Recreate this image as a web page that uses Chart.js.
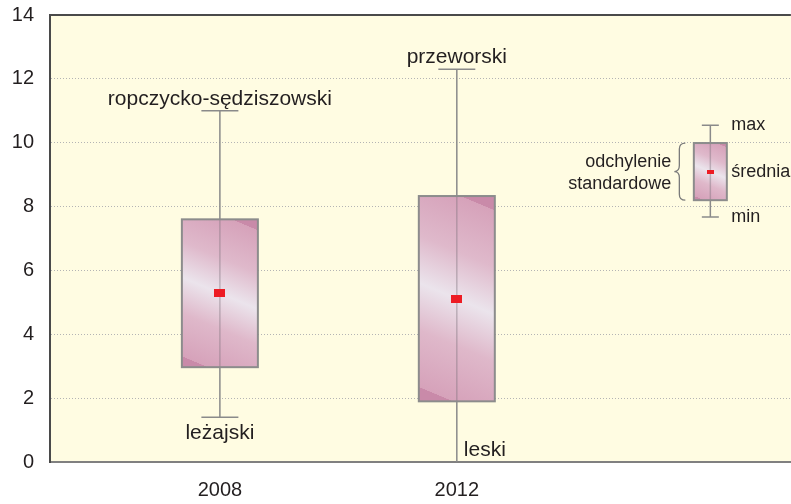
<!DOCTYPE html>
<html>
<head>
<meta charset="utf-8">
<script src="https://cdn.jsdelivr.net/npm/chart.js@4/dist/chart.umd.min.js"></script>
<style>
  html, body { margin: 0; padding: 0; background: #ffffff; overflow: hidden; }
</style>
</head>
<body>
<canvas id="chart" width="791" height="504"></canvas>
<script>
// data
const categories = ['2008', '2012'];
const xPos = [0, 1];
const minValues = [1.4, 0];
const maxValues = [11.0, 12.3];
const sdLow = [2.97, 1.9];
const sdHigh = [7.6, 8.33];
const means = [5.28, 5.1];
const maxLabels = ['ropczycko-sędziszowski', 'przeworski'];
const minLabels = ['leżajski', 'leski'];
const yTicks = [0, 2, 4, 6, 8, 10, 12, 14];

// sample box used as a key
const keyX = 2.07;
const keyValues = { min: 7.67, low: 8.2, mean: 9.08, high: 9.99, max: 10.55 };
const keyTexts = { max: 'max', mean: 'średnia', min: 'min', sd: ['odchylenie', 'standardowe'] };

const textColor = '#231f20';
const lineGray = '#8a8a8a';

function markCanvas(w, h) {
    const c = document.createElement('canvas');
    c.width = w;
    c.height = h;
    const g = c.getContext('2d');
    g.fillStyle = '#ed1c24';
    g.fillRect(0, 0, w, h);
    return c;
}
const bigMark = markCanvas(11, 8);
const smallMark = markCanvas(7, 4);

function boxGradient(ctx, x0, y0, w, h) {
    const cx = x0 + w / 2, cy = y0 + h / 2;
    const nx = -0.387, ny = 0.922;
    const L = Math.abs(w / 2 * nx) + Math.abs(h / 2 * ny);
    const g = ctx.createLinearGradient(cx - nx * L, cy - ny * L, cx + nx * L, cy + ny * L);
    g.addColorStop(0, '#c98aa9');
    g.addColorStop(0.06, '#c98aa9');
    g.addColorStop(0.061, '#d6a2ba');
    g.addColorStop(0.3, '#dfb9cb');
    g.addColorStop(0.5, '#ebe4ec');
    g.addColorStop(0.7, '#dfb8ca');
    g.addColorStop(0.939, '#d6a2ba');
    g.addColorStop(0.94, '#c98aa9');
    g.addColorStop(1, '#c98aa9');
    return g;
}

function drawBox(ctx, xs, ys, x, s, boxW, capW) {
    const px = xs.getPixelForValue(x);
    const yMin = ys.getPixelForValue(s.min);
    const yMax = ys.getPixelForValue(s.max);
    const yLow = ys.getPixelForValue(s.low);
    const yHigh = ys.getPixelForValue(s.high);

    // whisker outside the box
    ctx.strokeStyle = lineGray;
    ctx.lineWidth = 1.5;
    ctx.beginPath();
    ctx.moveTo(px, yMax);
    ctx.lineTo(px, yHigh);
    ctx.moveTo(px, yLow);
    ctx.lineTo(px, yMin);
    ctx.stroke();

    // caps
    ctx.beginPath();
    ctx.moveTo(px - capW / 2, yMax);
    ctx.lineTo(px + capW / 2, yMax);
    if (s.min > 0) {
        ctx.moveTo(px - capW / 2, yMin);
        ctx.lineTo(px + capW / 2, yMin);
    }
    ctx.stroke();

    // box
    const x0 = px - boxW / 2;
    ctx.fillStyle = boxGradient(ctx, x0, yHigh, boxW, yLow - yHigh);
    ctx.fillRect(x0, yHigh, boxW, yLow - yHigh);

    // faint whisker through the box
    ctx.strokeStyle = 'rgba(120,110,120,0.4)';
    ctx.lineWidth = 1.5;
    ctx.beginPath();
    ctx.moveTo(px, yHigh);
    ctx.lineTo(px, yLow);
    ctx.stroke();

    ctx.strokeStyle = '#8c8c8c';
    ctx.lineWidth = 2;
    ctx.strokeRect(x0, yHigh, boxW, yLow - yHigh);
}

const boxPlugin = {
    id: 'boxes',
    beforeDraw(chart) {
        const { ctx, chartArea: a } = chart;
        ctx.save();
        ctx.fillStyle = '#fffce2';
        ctx.fillRect(a.left, a.top, a.right - a.left, a.bottom - a.top);
        ctx.restore();
    },
    beforeDatasetsDraw(chart) {
        const { ctx, chartArea: a } = chart;
        const xs = chart.scales.x, ys = chart.scales.y;
        ctx.save();
        // frame top
        ctx.strokeStyle = '#4a4a4a';
        ctx.lineWidth = 2;
        ctx.beginPath();
        ctx.moveTo(a.left, a.top);
        ctx.lineTo(a.right, a.top);
        ctx.stroke();

        categories.forEach((c, i) => {
            drawBox(ctx, xs, ys, xPos[i], {
                min: minValues[i], max: maxValues[i], low: sdLow[i], high: sdHigh[i]
            }, 76, 37);
        });
        drawBox(ctx, xs, ys, keyX, keyValues, 33, 17);
        ctx.restore();
    },
    afterDatasetsDraw(chart) {
        const { ctx } = chart;
        const xs = chart.scales.x, ys = chart.scales.y;
        ctx.save();
        ctx.fillStyle = textColor;
        ctx.font = '21px "Liberation Sans", Arial, sans-serif';
        categories.forEach((c, i) => {
            const px = xs.getPixelForValue(xPos[i]);
            ctx.textAlign = 'center';
            ctx.textBaseline = 'alphabetic';
            ctx.fillText(maxLabels[i], px, ys.getPixelForValue(maxValues[i]) - 6);
            if (minValues[i] > 0) {
                ctx.fillText(minLabels[i], px, ys.getPixelForValue(minValues[i]) + 22);
            } else {
                ctx.textAlign = 'left';
                ctx.fillText(minLabels[i], px + 7, ys.getPixelForValue(minValues[i]) - 6);
            }
        });

        // key texts
        const kx = xs.getPixelForValue(keyX);
        ctx.font = '18px "Liberation Sans", Arial, sans-serif';
        ctx.textAlign = 'left';
        ctx.textBaseline = 'middle';
        ctx.fillText(keyTexts.max, kx + 21, ys.getPixelForValue(keyValues.max));
        ctx.fillText(keyTexts.mean, kx + 21, ys.getPixelForValue(keyValues.mean));
        ctx.fillText(keyTexts.min, kx + 21, ys.getPixelForValue(keyValues.min));

        const yTop = ys.getPixelForValue(keyValues.high);
        const yBot = ys.getPixelForValue(keyValues.low);
        const yMid = (yTop + yBot) / 2;
        ctx.textAlign = 'right';
        ctx.fillText(keyTexts.sd[0], kx - 39, yMid - 10);
        ctx.fillText(keyTexts.sd[1], kx - 39, yMid + 12);

        // brace
        const bx = kx - 31;
        ctx.strokeStyle = '#7a7a7a';
        ctx.lineWidth = 1.3;
        ctx.beginPath();
        ctx.moveTo(bx + 6, yTop);
        ctx.quadraticCurveTo(bx, yTop, bx, yTop + 6);
        ctx.lineTo(bx, yMid - 6);
        ctx.quadraticCurveTo(bx, yMid, bx - 5, yMid);
        ctx.quadraticCurveTo(bx, yMid, bx, yMid + 6);
        ctx.lineTo(bx, yBot - 6);
        ctx.quadraticCurveTo(bx, yBot, bx + 6, yBot);
        ctx.stroke();
        ctx.restore();
    }
};

const meanPoints = means.map((m, i) => ({ x: xPos[i], y: m }));
meanPoints.push({ x: keyX, y: keyValues.mean });

new Chart(document.getElementById('chart'), {
    type: 'scatter',
    data: {
        datasets: [{
            data: meanPoints,
            pointStyle: ctx => ctx.dataIndex < means.length ? bigMark : smallMark,
            // tiny radius so the dataset adds no overflow padding to the layout
            pointRadius: 0.1,
            pointHoverRadius: 0.1,
            pointBorderWidth: 0,
            borderWidth: 0
        }]
    },
    options: {
        responsive: false,
        animation: false,
        events: [],
        layout: { padding: { top: 15, right: 0, left: 0, bottom: 0 } },
        plugins: { legend: { display: false }, tooltip: { enabled: false } },
        scales: {
            x: {
                type: 'linear',
                min: -0.717,
                max: 2.41,
                afterBuildTicks: scale => {
                    scale.ticks = xPos.map(v => ({ value: v }));
                },
                afterFit: scale => {
                    scale.height = 42;
                    scale.paddingLeft = 0;
                    scale.paddingRight = 0;
                },
                ticks: {
                    callback: (v) => categories[xPos.indexOf(v)],
                    color: textColor,
                    font: { family: '"Liberation Sans", Arial, sans-serif', size: 20 },
                    padding: 16,
                    autoSkip: false,
                    maxRotation: 0
                },
                grid: { display: false, drawTicks: false },
                border: { display: true, color: '#808080', width: 2 }
            },
            y: {
                min: 0,
                max: 14,
                afterBuildTicks: scale => {
                    scale.ticks = yTicks.map(v => ({ value: v }));
                },
                afterFit: scale => {
                    scale.width = 50;
                    scale.paddingTop = 0;
                    scale.paddingBottom = 0;
                },
                ticks: {
                    color: textColor,
                    font: { family: '"Liberation Sans", Arial, sans-serif', size: 20 },
                    padding: 16
                },
                grid: {
                    drawTicks: false,
                    color: ctx => (ctx.tick && (ctx.tick.value === 0 || ctx.tick.value === 14)) ? 'rgba(0,0,0,0)' : '#b4b4b4',
                    lineWidth: 1
                },
                border: { display: true, color: '#4a4a4a', width: 2, dash: [1, 2] }
            }
        }
    },
    plugins: [boxPlugin]
});
</script>
</body>
</html>
